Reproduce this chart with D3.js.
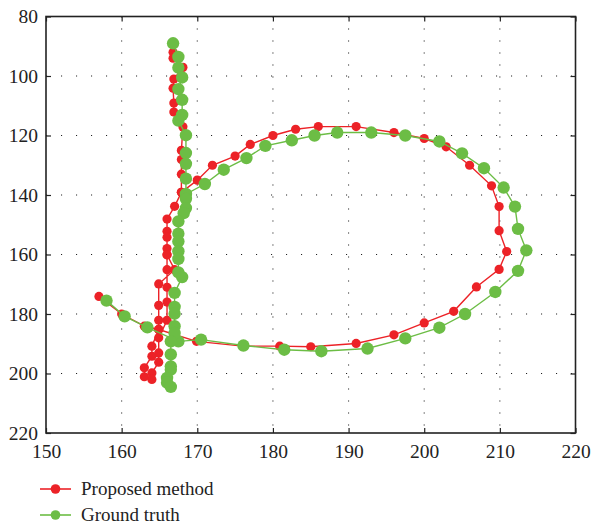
<!DOCTYPE html>
<html><head><meta charset="utf-8">
<script src="https://cdn.jsdelivr.net/npm/d3@7"></script>
<style>body{margin:0;background:#fff}svg{display:block}</style>
</head><body>
<svg id="c" width="599" height="528"></svg>
<script>
const xTicks = [150,160,170,180,190,200,210,220];
const yTicks = [80,100,120,140,160,180,200,220];
const seriesNames = ["Proposed method","Ground truth"];
const seriesColors = ["#ec2227","#6cbd45"];

// Proposed method: path segments of [x, y]
const proposedUpperAndLoop = [
  [166.8,92.0],[166.8,94.0],[168.1,97.1],[166.9,101.0],[166.8,104.1],[166.9,109.1],[166.9,112.1],
  [168.1,117.1],[167.9,125.0],[167.9,128.1],[167.9,133.0],[167.9,139.1],
  [170.0,135.0],[172.0,130.0],[175.0,126.9],[177.0,123.0],[180.0,120.0],[183.0,117.9],[186.0,117.0],
  [191.0,117.0],[196.0,119.0],[200.0,121.0],[202.9,123.8],[206.0,130.0],[208.9,136.9],[209.9,143.9],
  [209.9,152.0],[210.9,159.0],[209.9,165.0],[206.9,170.9],[203.9,179.1],[200.0,183.0],[196.0,187.0],
  [191.0,189.9],[185.0,191.0],[180.9,190.8],[176.0,190.8],[169.9,189.2],[164.9,185.2],[163.0,184.1],
  [160.0,180.0],[157.0,174.1]
];
const proposedLower = [
  [167.9,139.1],[167.0,143.8],[166.0,148.1],[166.0,152.2],[166.0,154.2],[166.0,158.0],[166.0,160.1],
  [166.0,165.1],[166.0,171.0],[166.0,176.0],[166.0,182.1],[164.9,188.0],[164.9,193.1],[164.9,196.2],
  [164.0,199.8],[164.0,202.0],[163.0,201.1],[163.0,198.1],[164.0,194.2],[164.0,190.8],[164.9,185.2],
  [164.9,182.1],[164.9,177.1],[164.9,169.9],[167.0,165.1],[166.0,160.1]
];
// Ground truth
const truthUpperAndLoop = [
  [166.8,89.0],[167.5,93.6],[167.5,97.2],[168.0,100.5],[167.5,104.4],[168.0,108.0],[168.0,113.1],
  [167.5,115.0],[168.5,119.9],[168.5,125.9],[168.5,129.5],[168.5,134.5],[168.5,139.7],
  [171.0,136.3],[173.5,131.5],[176.5,127.6],[179.0,123.5],[182.5,121.6],[185.5,120.0],[188.5,119.0],
  [193.0,119.0],[197.5,120.0],[202.0,122.0],[205.0,126.0],[207.9,131.0],[210.5,137.5],[212.0,143.9],
  [212.4,151.4],[213.5,158.6],[212.4,165.5],[209.4,172.6],[205.4,180.0],[202.0,184.6],[197.5,188.2],
  [192.5,191.6],[186.4,192.5],[181.5,192.0],[176.1,190.6],[170.5,188.6],[167.5,189.2],[163.4,184.5],
  [160.4,180.8],[158.0,175.5]
];
const truthLower = [
  [168.5,139.7],[168.5,141.3],[168.5,144.4],[168.2,146.1],[167.5,148.9],[167.5,153.0],[167.5,155.6],
  [167.5,158.9],[167.5,161.5],[167.5,166.0],[168.0,167.6],[167.0,172.9],[167.0,177.6],[167.0,179.9],
  [167.0,184.1],[167.0,186.4],[166.5,189.2],[166.5,193.6],[166.5,197.6],[166.5,198.7],[166.0,201.5],
  [166.0,203.1],[166.5,204.5]
];

const series = [
  {name: seriesNames[0], color: seriesColors[0], r: 4.6, segments: [proposedUpperAndLoop, proposedLower]},
  {name: seriesNames[1], color: seriesColors[1], r: 6.2, segments: [truthUpperAndLoop, truthLower]}
];

const svg = d3.select("#c");
const L = 46, R = 575.5, T = 16.5, B = 433;
const x = d3.scaleLinear().domain([150,220]).range([L,R]);
const y = d3.scaleLinear().domain([80,220]).range([T,B]);
const font = "'Liberation Serif','DejaVu Serif',serif";

// grid
const grid = svg.append("g");
grid.selectAll("line.gx").data(xTicks.slice(1,-1)).join("line")
  .attr("x1", d=>x(d)).attr("x2", d=>x(d)).attr("y1", T).attr("y2", B)
  .attr("stroke","#222").attr("stroke-width",1.1).attr("stroke-dasharray","1.1,10.9");
grid.selectAll("line.gy").data(yTicks.slice(1,-1)).join("line")
  .attr("y1", d=>y(d)).attr("y2", d=>y(d)).attr("x1", L).attr("x2", R)
  .attr("stroke","#222").attr("stroke-width",1.1).attr("stroke-dasharray","1.1,13.9");

// axes
const ax = (g)=>g.call(s=>s.select(".domain").remove());
svg.append("g").attr("transform",`translate(0,${B})`)
  .call(d3.axisBottom(x).tickValues(xTicks).tickSize(-5).tickPadding(11).tickFormat(d3.format("d")))
  .call(ax);
svg.append("g").attr("transform",`translate(0,${T})`)
  .call(d3.axisTop(x).tickValues(xTicks).tickSize(-5).tickFormat(""))
  .call(ax);
svg.append("g").attr("transform",`translate(${L},0)`)
  .call(d3.axisLeft(y).tickValues(yTicks).tickSize(-5).tickPadding(8).tickFormat(d3.format("d")))
  .call(ax);
svg.append("g").attr("transform",`translate(${R},0)`)
  .call(d3.axisRight(y).tickValues(yTicks).tickSize(-5).tickFormat(""))
  .call(ax);
svg.selectAll(".tick line").attr("stroke","#222").attr("stroke-width",1.2);
svg.selectAll(".tick text").attr("font-family",font).attr("font-size",19.5).attr("fill","#222");

svg.append("rect").attr("x",L).attr("y",T).attr("width",R-L).attr("height",B-T)
  .attr("fill","none").attr("stroke","#222").attr("stroke-width",1.6);

// data
const line = d3.line().x(d=>x(d[0])).y(d=>y(d[1]));
series.forEach(s=>{
  const g = svg.append("g");
  s.segments.forEach(seg=>{
    g.append("path").attr("d", line(seg)).attr("fill","none")
      .attr("stroke", s.color).attr("stroke-width",1.4);
  });
  s.segments.forEach(seg=>{
    g.selectAll(null).data(seg).join("circle")
      .attr("cx", d=>x(d[0])).attr("cy", d=>y(d[1])).attr("r", s.r).attr("fill", s.color);
  });
});

// legend
const leg = svg.append("g");
series.forEach((s,i)=>{
  const ly = 489 + i*26;
  leg.append("line").attr("x1",40).attr("x2",71).attr("y1",ly).attr("y2",ly)
    .attr("stroke", s.color).attr("stroke-width",1.6);
  leg.append("circle").attr("cx",55.5).attr("cy",ly).attr("r",4.8).attr("fill",s.color);
  leg.append("text").attr("x",81).attr("y",ly+6).attr("font-family",font).attr("font-size",19)
    .attr("fill","#222").text(s.name);
});
</script>
</body></html>
